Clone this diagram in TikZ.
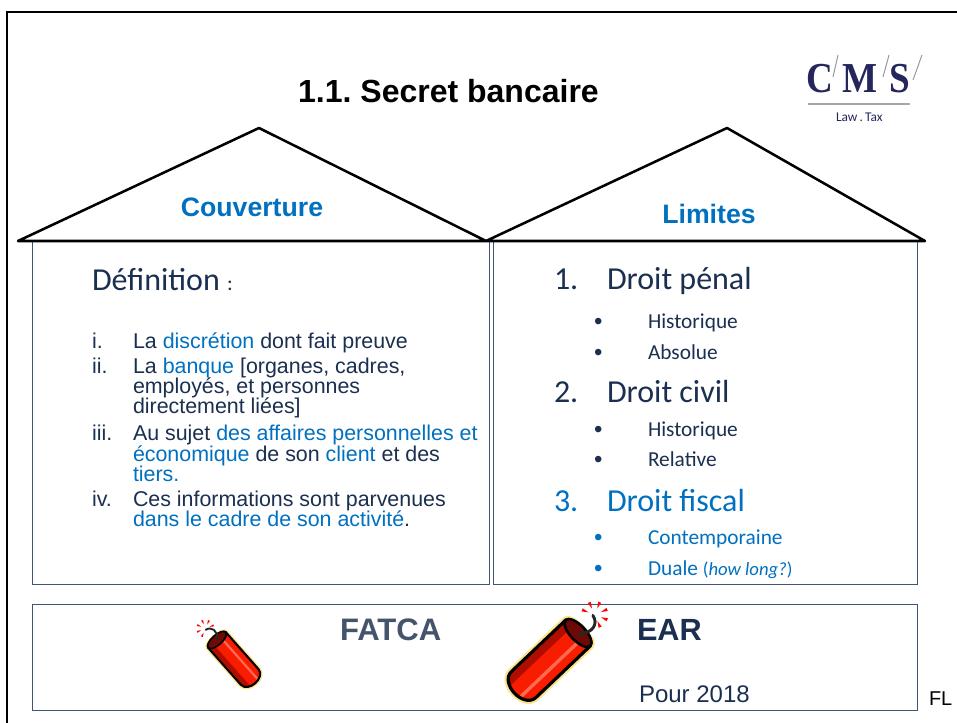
\documentclass[tikz,border=0pt]{standalone}
\usepackage{fontspec}
\setmainfont{Liberation Sans}
\newfontfamily\calfam{Carlito}
\newfontfamily\lserif{Liberation Serif}
\usepackage{xcolor}
\frenchspacing
\definecolor{bl}{HTML}{0070C0}
\definecolor{navy}{HTML}{1B2F50}
\definecolor{slate}{HTML}{44546A}
\definecolor{boxc}{HTML}{3F5577}
\definecolor{logoc}{HTML}{25275C}
\definecolor{halo}{HTML}{FBE48A}
\definecolor{tnt}{HTML}{F81C00}
\definecolor{tntdark}{HTML}{B00C00}
\definecolor{tntlight}{HTML}{FF6A50}
\definecolor{tntcap}{HTML}{6E0A06}
\newcommand{\dyn}[4]{%
\begin{scope}[shift={(#1,#2)},rotate=#3,scale=#4,yscale=-1]
 \def\bodypath{(0,-21) -- (88,-21) .. controls (98,-21) and (103,-10) .. (103,0) .. controls (103,10) and (98,21) .. (88,21) -- (0,21) .. controls (-9,21) and (-9,-21) .. (0,-21) -- cycle}
 \draw[draw=halo,line width=6.4*#4 pt,line join=round] \bodypath;
 \fill[tnt] \bodypath;
 \fill[tntdark] (3,-19) -- (97,-19) -- (101,-10) -- (5,-10) -- cycle;
 \fill[tntlight] (8,6) -- (100,6) -- (100,10) -- (8,10) -- cycle;
 \draw[black,line width=2.8*#4 pt,line join=round] \bodypath;
 \fill[tntcap,draw=black,line width=2.2*#4 pt] (0,0) ellipse (9 and 21);
 \draw[black!85,line width=2.6*#4 pt,line cap=round] (-1,2) .. controls (-12,12) and (-25,9) .. (-27,-3);
 \foreach \a in {70,115,160,205,250,295} {
  \fill[red] ([shift={(-29,-2)}]\a:8) -- ([shift={(-29,-2)}]\a-7:16) -- ([shift={(-29,-2)}]\a+7:16) -- cycle;
 }
\end{scope}}
\tikzset{
 x=0.75pt,y=-0.75pt,
 lbl/.style={inner sep=0pt,outer sep=0pt,anchor=base west},
 ar/.style={lbl,font=\fontsize{16.05}{16}\selectfont,text=navy},
 big/.style={lbl,font=\calfam\fontsize{24}{24}\selectfont,text=navy},
 sm/.style={lbl,font=\calfam\fontsize{16}{16}\selectfont,text=navy},
 bul/.style={lbl,font=\fontsize{18}{18}\selectfont,text=navy},
 bigb/.style={big,text=bl},
 smb/.style={sm,text=bl},
 bulb/.style={bul,text=bl},
 boxl/.style={draw=boxc,line width=0.75pt},
 roof/.style={draw=black,line width=1.9pt,line join=round},
 head/.style={inner sep=0pt,font=\bfseries\fontsize{20}{20}\selectfont,text=bl},
 logol/.style={lbl,xscale=0.87,transform shape,font=\lserif\bfseries\fontsize{32}{32}\selectfont,text=logoc},
 slash/.style={draw=gray!80,line width=0.75pt},
}
\begin{document}
\begin{tikzpicture}
\useasboundingbox (0,0) rectangle (957,723);
\fill[white] (0,0) rectangle (957,723);
\draw[black,line width=1.7pt] (7,723) -- (7,12) -- (957,12);
% boxes
\draw[boxl] (32,241) rectangle (489,584);
\draw[boxl] (493,241) rectangle (917,584);
\draw[boxl] (32,604) rectangle (917,710);
% roofs
\draw[roof] (18,241) -- (259,128) -- (486,241) -- (727,128) -- (925,241) -- cycle;
\node[inner sep=0pt,font=\bfseries\fontsize{24}{24}\selectfont,text=black] (title) at (448.5,91) {1.1. Secret bancaire};
\node[head] (couv) at (252,207) {Couverture};
\node[head] (lim) at (709,214) {Limites};
% logo
\node[logol] (lc) at (806,93) {C};
\node[logol] (lm) at (842,93) {M};
\node[logol] (ls) at (889,93) {S};
\draw[slash] (833,77) -- (838,55);
\draw[slash] (883,77) -- (889,55);
\draw[slash] (913,80) -- (922,55);
\draw[gray!70,line width=0.8pt] (808,104) -- (910,104);
\node[lbl,font=\calfam\fontsize{10}{10}\selectfont,text=logoc] (lt) at (836,122) {Law\,.\,Tax};
% left text
\node[big] (def) at (92,291) {Définition \fontsize{16}{16}\selectfont:};
\node[ar] (i1) at (92,349) {i.};
\node[ar] (i2) at (133,349) {La \textcolor{bl}{discrétion} dont fait preuve};
\node[ar] (ii1) at (92,374) {ii.};
\node[ar] (ii2) at (133,374) {La \textcolor{bl}{banque} [organes, cadres,};
\node[ar] (ii3) at (133,394) {employés, et personnes};
\node[ar] (ii4) at (133,414) {directement liées]};
\node[ar] (iii1) at (92,441) {iii.};
\node[ar] (iii2) at (133,441) {Au sujet \textcolor{bl}{des affaires personnelles et}};
\node[ar] (iii3) at (133,461.5) {\textcolor{bl}{économique} de son \textcolor{bl}{client} et des};
\node[ar] (iii4) at (133,482) {\textcolor{bl}{tiers.}};
\node[ar] (iv1) at (92,507) {iv.};
\node[ar] (iv2) at (133,507) {Ces informations sont parvenues};
\node[ar] (iv3) at (133,527) {\textcolor{bl}{dans le cadre de son activité}\textcolor{navy}{.}};
% right text
\node[big] (n1) at (554,290) {1.};
\node[big] (d1) at (607,290) {Droit pénal};
\node[bul] (b1) at (594,330) {•};
\node[sm] (h1) at (648,329) {Historique};
\node[bul] (b2) at (594,361) {•};
\node[sm] (a1) at (648,360) {Absolue};
\node[big] (n2) at (554,403) {2.};
\node[big] (d2) at (607,403) {Droit civil};
\node[bul] (b3) at (594,438) {•};
\node[sm] (h2) at (648,437) {Historique};
\node[bul] (b4) at (594,468) {•};
\node[sm] (r2) at (648,467) {Relative};
\node[bigb] (n3) at (554,511) {3.};
\node[bigb] (d3) at (607,511) {Droit fiscal};
\node[bulb] (b5) at (594,545) {•};
\node[smb] (c3) at (648,544) {Contemporaine};
\node[bulb] (b6) at (594,576) {•};
\node[smb] (d4) at (648,575) {Duale {\fontsize{14}{14}\selectfont(\textit{how long?})}};
% bottom
\node[lbl,font=\bfseries\fontsize{23.3}{24}\selectfont,text=slate] (fatca) at (340,640) {FATCA};
\node[lbl,font=\bfseries\fontsize{23}{23}\selectfont,text=navy] (ear) at (637,640) {EAR};
\node[lbl,font=\fontsize{18}{18}\selectfont,text=navy] (pour) at (639,702) {Pour 2018};
\node[lbl,font=\fontsize{15}{15}\selectfont,text=black] (fl) at (929,705) {FL};
\dyn{217}{640}{-48.5}{0.56}
\dyn{578}{633}{-136.5}{0.85}
\end{tikzpicture}
\end{document}
